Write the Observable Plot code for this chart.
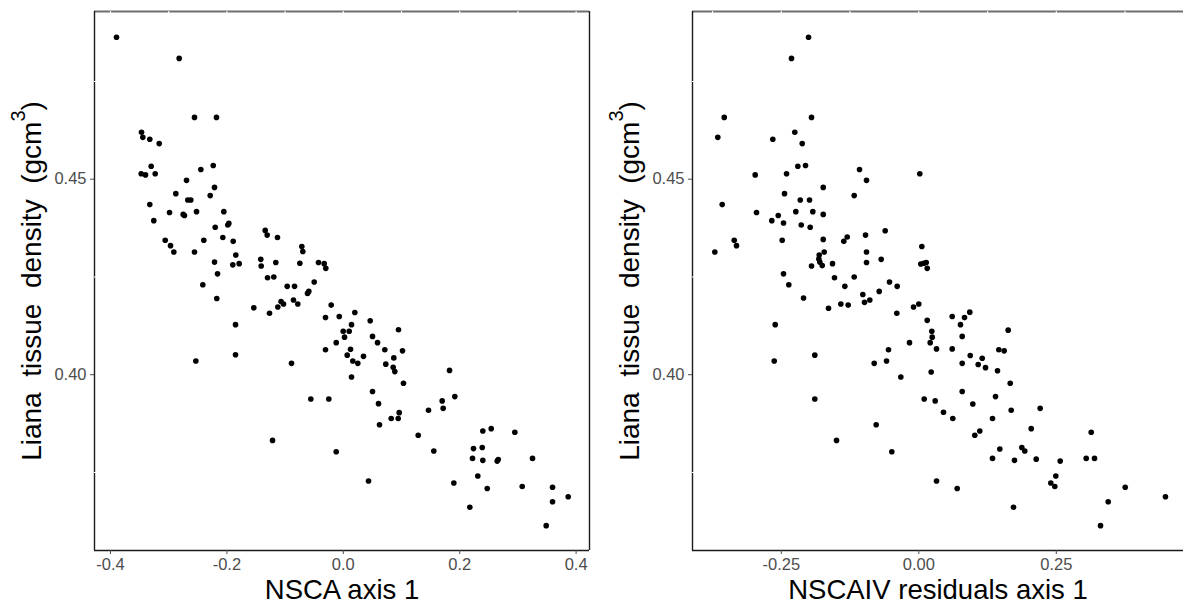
<!DOCTYPE html>
<html>
<head>
<meta charset="utf-8">
<script src="https://cdn.jsdelivr.net/npm/d3@7"></script>
<script src="https://cdn.jsdelivr.net/npm/@observablehq/plot@0.6"></script>
<style>
  html, body { margin: 0; padding: 0; background: #fff; }
  #wrap { display: flex; flex-direction: row; width: 1183px; height: 603px; overflow: hidden; }
  #wrap svg { display: block; }
</style>
</head>
<body>
<div id="wrap"></div>
<script>
// ---- Data ----
const nscaAxis1 = [
-0.3897,-0.2820,-0.2557,-0.2179,-0.3467,-0.3445,-0.3325,-0.3163,-0.3301,-0.3473,
-0.3399,-0.3232,-0.2448,-0.2235,-0.2694,-0.2213,-0.2878,-0.2672,-0.2620,-0.2287,
-0.3325,-0.2986,-0.2751,-0.2729,-0.2522,-0.2053,-0.3256,-0.2201,-0.1967,-0.1985,
-0.3060,-0.2969,-0.2912,-0.2557,-0.2397,-0.2070,-0.1892,-0.1342,-0.1308,-0.1131,
-0.1847,-0.1899,-0.1789,-0.2213,-0.2161,-0.2414,-0.2174,-0.1418,-0.1411,-0.1160,
-0.1302,-0.1194,-0.0964,-0.0838,-0.0713,-0.0696,-0.0747,-0.0426,-0.0328,-0.0301,
-0.0500,-0.0615,-0.0593,-0.1538,-0.1268,-0.1125,-0.1070,-0.1027,-0.0856,-0.0782,
-0.0208,-0.0306,-0.0070,0.0198,0.0141,-0.0002,0.0021,0.0101,0.0462,0.0502,
0.0588,-0.0122,-0.0306,0.0124,0.0067,0.0163,0.0249,0.0347,0.0141,0.0713,
0.0730,0.0868,0.0857,0.0885,0.0948,-0.1852,-0.1852,-0.2534,-0.0890,-0.0558,
-0.0249,0.0502,0.0605,0.0622,0.0823,0.0943,0.0960,-0.1216,-0.0122,0.0433,
0.1017,0.1034,0.1287,0.1464,0.1555,0.1699,0.1716,0.1825,0.1916,0.1899,
0.2174,0.2237,0.2220,0.2311,0.2387,0.2397,0.2397,0.2473,0.2541,0.2644,
0.2662,0.2947,0.3074,0.3251,0.3486,0.3595,0.3595,0.3864
];
const nscaDensity = [
0.4863,0.4809,0.4658,0.4658,0.4620,0.4607,0.4602,0.4591,0.4533,0.4514,
0.4511,0.4514,0.4525,0.4535,0.4497,0.4479,0.4463,0.4447,0.4447,0.4458,
0.4435,0.4415,0.4410,0.4407,0.4417,0.4417,0.4394,0.4377,0.4387,0.4383,
0.4344,0.4330,0.4314,0.4314,0.4344,0.4351,0.4341,0.4369,0.4357,0.4351,
0.4306,0.4281,0.4284,0.4288,0.4258,0.4230,0.4195,0.4295,0.4278,0.4287,
0.4248,0.4250,0.4226,0.4226,0.4328,0.4315,0.4285,0.4287,0.4284,0.4272,
0.4237,0.4208,0.4213,0.4171,0.4157,0.4173,0.4187,0.4181,0.4191,0.4181,
0.4178,0.4146,0.4149,0.4159,0.4128,0.4111,0.4096,0.4111,0.4138,0.4098,
0.4082,0.4082,0.4064,0.4065,0.4050,0.4035,0.4029,0.4047,0.3994,0.4064,
0.4027,0.4043,0.4019,0.4008,0.4115,0.4128,0.4051,0.4035,0.4029,0.3938,
0.3938,0.3957,0.3926,0.3872,0.3888,0.3888,0.3903,0.3832,0.3803,0.3728,
0.4061,0.3978,0.3845,0.3909,0.3805,0.3933,0.3914,0.4011,0.3944,0.3723,
0.3661,0.3811,0.3786,0.3741,0.3814,0.3856,0.3781,0.3709,0.3862,0.3779,
0.3783,0.3853,0.3714,0.3786,0.3614,0.3712,0.3675,0.3688
];
const nscaivAxis1 = [
-0.2005,-0.2315,-0.3538,-0.1951,-0.3655,-0.2655,-0.2255,-0.2120,-0.2200,-0.2060,
-0.2975,-0.2405,-0.1078,-0.0951,0.0018,-0.1738,-0.2442,-0.2156,-0.1987,-0.1175,
-0.3575,-0.2951,-0.2556,-0.2236,-0.1927,-0.1738,-0.2673,-0.2460,-0.2138,-0.1975,
-0.0611,-0.0969,-0.1302,-0.1364,-0.3356,-0.3315,-0.3709,-0.2484,-0.1738,-0.1720,
-0.0951,-0.1811,-0.1818,-0.1800,-0.1756,-0.1951,-0.1569,-0.0951,-0.0684,0.0055,
0.0036,0.0091,0.0135,0.0153,-0.2460,-0.2364,-0.1533,-0.1345,-0.1175,-0.0533,
-0.0393,-0.0720,-0.1018,-0.0987,-0.0891,-0.2096,-0.1642,-0.1418,-0.1284,-0.0400,
-0.0096,0.0000,0.0153,0.0607,0.0831,0.0927,0.0758,0.0236,0.0244,0.0207,
0.0789,0.1625,-0.0169,-0.0551,0.0322,0.0607,0.1455,0.1553,-0.1891,-0.0811,
-0.0587,0.0225,-0.0327,0.0789,0.0935,0.1080,0.1153,0.1213,0.1431,0.1662,
0.0789,0.0098,-0.1891,0.0298,0.0449,0.0618,0.0982,0.1395,0.1680,0.2207,
0.1340,0.2044,0.3135,-0.0775,0.1018,0.1109,-0.1496,0.1473,0.1873,0.1927,
0.1340,0.1740,0.2135,0.2571,0.3044,0.3195,-0.0491,0.2491,0.2400,0.2473,
0.0322,0.0698,0.3753,0.4485,0.3444,0.1722,0.3304,-0.2611,-0.2629
];
const nscaivDensity = [
0.4863,0.4809,0.4658,0.4658,0.4607,0.4602,0.4620,0.4591,0.4533,0.4535,
0.4511,0.4514,0.4525,0.4497,0.4514,0.4479,0.4463,0.4447,0.4447,0.4458,
0.4435,0.4415,0.4407,0.4417,0.4417,0.4410,0.4394,0.4388,0.4383,0.4377,
0.4368,0.4357,0.4352,0.4341,0.4344,0.4330,0.4314,0.4344,0.4346,0.4314,
0.4314,0.4306,0.4296,0.4288,0.4279,0.4278,0.4284,0.4287,0.4295,0.4328,
0.4283,0.4285,0.4287,0.4272,0.4258,0.4230,0.4248,0.4226,0.4250,0.4237,
0.4226,0.4213,0.4205,0.4185,0.4191,0.4196,0.4170,0.4181,0.4178,0.4157,
0.4173,0.4181,0.4139,0.4149,0.4146,0.4160,0.4128,0.4111,0.4096,0.4082,
0.4098,0.4114,0.4082,0.4064,0.4066,0.4066,0.4064,0.4061,0.4050,0.4029,
0.4035,0.4007,0.3994,0.4029,0.4049,0.4026,0.4042,0.4018,0.4010,0.3978,
0.3957,0.3938,0.3938,0.3933,0.3904,0.3888,0.3925,0.3944,0.3909,0.3914,
0.3888,0.3862,0.3853,0.3872,0.3845,0.3856,0.3832,0.3810,0.3814,0.3805,
0.3786,0.3781,0.3784,0.3779,0.3786,0.3786,0.3803,0.3741,0.3723,0.3714,
0.3728,0.3709,0.3712,0.3688,0.3675,0.3661,0.3614,0.4128,0.4035
];

const densityTicks = [0.40, 0.45];
const densityMinorGrid = [0.375, 0.425, 0.475];
const nscaTicks = [-0.4, -0.2, 0.0, 0.2, 0.4];
const nscaGrid = [-0.4, -0.3, -0.2, -0.1, 0.0, 0.1, 0.2, 0.3, 0.4];
const nscaivTicks = [-0.25, 0.0, 0.25];
const nscaivGrid = [-0.375, -0.25, -0.125, 0.0, 0.125, 0.25, 0.375];

const yTitle = "Liana\u00a0\u00a0tissue\u00a0\u00a0density\u00a0\u00a0(gcm\u00b3)";
const leftXTitle = "NSCA axis 1";
const rightXTitle = "NSCAIV residuals axis 1";

// ---- Drawing ----
const FONT = "'Liberation Sans', Arial, Helvetica, sans-serif";
const yDomain = [0.35504, 0.49289];

function panel({xs, ys, width, marginLeft, marginRight, xDomain, ticks, grid, fmt, xTitle, rightBorder}) {
  const data = xs.map((x, i) => ({x, y: ys[i]}));
  const marks = [
    Plot.ruleY([yDomain[1]], {stroke: "#6e6e6e", strokeWidth: 2}),
    Plot.ruleX([xDomain[0]], {stroke: "#1a1a1a", strokeWidth: 1.4}),
    Plot.ruleX(grid, {stroke: "#ffffff", strokeWidth: 1.1}),
    Plot.ruleY(densityMinorGrid, {stroke: "#ffffff", strokeWidth: 1.1}),
    Plot.ruleY([yDomain[0]], {stroke: "#1a1a1a", strokeWidth: 1.4}),
  ];
  if (rightBorder) marks.push(Plot.ruleX([xDomain[1]], {stroke: "#1a1a1a", strokeWidth: 1.4}));
  marks.push(
    Plot.dot(data, {x: "x", y: "y", r: 2.8, fill: "#000", stroke: "none"}),
    Plot.axisX(ticks, {tickSize: 4, tickPadding: 4, tickFormat: fmt, fontSize: 16.5, color: "#4d4d4d", label: null}),
    Plot.axisY(densityTicks, {tickSize: 4, tickPadding: 4, tickFormat: d => d.toFixed(2), fontSize: 16.5, color: "#4d4d4d", label: null}),
    Plot.text([yTitle], {frameAnchor: "left", dx: -54, rotate: -90, textAnchor: "middle", lineAnchor: "bottom", fontSize: 28, fill: "#000"}),
    Plot.text([xTitle], {frameAnchor: "bottom", dy: 48, textAnchor: "middle", lineAnchor: "bottom", fontSize: 27.5, fill: "#000"})
  );
  const svg = Plot.plot({
    width, height: 603,
    marginLeft, marginRight, marginTop: 11, marginBottom: 53,
    x: {domain: xDomain, label: null},
    y: {domain: yDomain, label: null},
    style: {fontFamily: FONT, background: "#fff", overflow: "visible"},
    marks
  });
  // render the "3" of gcm3 as a real superscript (plotmath style)
  for (const t of svg.querySelectorAll("text")) {
    const s = t.textContent;
    if (!s.includes("\u00b3")) continue;
    const [a, b] = s.split("\u00b3");
    t.textContent = "";
    const ns = "http://www.w3.org/2000/svg";
    const t1 = document.createElementNS(ns, "tspan"); t1.textContent = a;
    const t2 = document.createElementNS(ns, "tspan"); t2.textContent = "3";
    t2.setAttribute("font-size", "20"); t2.setAttribute("dy", "-16");
    const t3 = document.createElementNS(ns, "tspan"); t3.textContent = b;
    t3.setAttribute("dy", "16");
    t.append(t1, t2, t3);
  }
  return svg;
}

const left = panel({
  xs: nscaAxis1, ys: nscaDensity, width: 640, marginLeft: 94, marginRight: 51,
  xDomain: [-0.4275, 0.4230], ticks: nscaTicks, grid: nscaGrid,
  fmt: d => d.toFixed(1), xTitle: leftXTitle, rightBorder: true
});
const right = panel({
  xs: nscaivAxis1, ys: nscaivDensity, width: 543, marginLeft: 52, marginRight: 0,
  xDomain: [-0.4115, 0.4813], ticks: nscaivTicks, grid: nscaivGrid,
  fmt: d => d.toFixed(2), xTitle: rightXTitle, rightBorder: false
});
const wrap = document.getElementById("wrap");
wrap.appendChild(left);
wrap.appendChild(right);
</script>
</body>
</html>
